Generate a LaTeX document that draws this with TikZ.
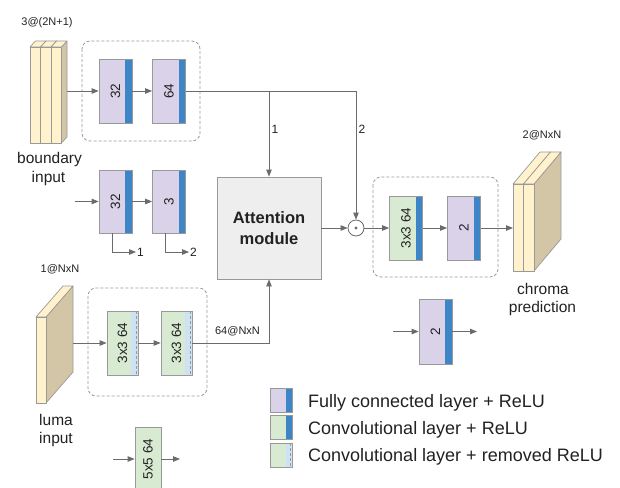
\documentclass[tikz,border=0pt]{standalone}
\usepackage{fontspec}
\setmainfont{Liberation Sans}
\usetikzlibrary{arrows.meta}
\definecolor{fcpurple}{HTML}{D9D2E9}
\definecolor{convgreen}{HTML}{D9EAD3}
\definecolor{relublue}{HTML}{3D85C6}
\definecolor{paleblue}{HTML}{CFE2F3}
\definecolor{cream}{HTML}{FFF2CC}
\definecolor{slabtan}{HTML}{D3C6A6}
\definecolor{edgegray}{HTML}{999999}
\definecolor{linegray}{HTML}{6B6B6B}
\definecolor{attgray}{HTML}{EEEEEE}
\definecolor{txt}{HTML}{222222}
\newcommand{\rtext}[1]{\rotatebox{90}{#1}\hspace{5pt}}
\newcommand{\slabdraw}[6]{%
  \draw[slabedge, fill=slabtan] (#1+#4,#2) -- ++(#5,#6) -- (#1+#4+#5,#3+#6) -- (#1+#4,#3) -- cycle;
  \draw[slabedge, fill=cream] (#1,#2) -- ++(#5,#6) -- ++(#4,0) -- (#1+#4,#2) -- cycle;
  \draw[slabedge, fill=cream] (#1,#2) rectangle (#1+#4,#3);}
\begin{document}
\begin{tikzpicture}[x=1pt,y=-1pt,
  slabedge/.style={draw=edgegray, line width=0.7pt, line join=round},
  layer/.style={draw=edgegray, line width=0.8pt, inner sep=0pt, minimum width=33pt,
    minimum height=64pt, text=txt, font=\fontsize{13.5}{14}\selectfont},
  relu/.style={path picture={\fill[relublue] ([xshift=-#1]path picture bounding box.north east)
    rectangle (path picture bounding box.south east);}},
  relu/.default=7pt,
  norelu/.style={path picture={\fill[paleblue] ([xshift=-#1]path picture bounding box.north east)
    rectangle (path picture bounding box.south east);
    \draw[edgegray, line width=0.8pt, dash pattern=on 3pt off 2pt] ([xshift=-2pt]path picture bounding box.north east)
    -- ([xshift=-2pt]path picture bounding box.south east);}},
  norelu/.default=7pt,
  group/.style={draw=edgegray, line width=0.8pt, dash pattern=on 3pt off 2pt, rounded corners=8pt},
  att/.style={draw=edgegray, fill=attgray, line width=0.8pt, minimum width=104pt, minimum height=102pt,
    inner sep=0pt, align=center, text=txt, font=\fontsize{16.5}{21}\selectfont\bfseries},
  dotc/.style={circle, draw=linegray, fill=white, line width=0.8pt, minimum size=16pt, inner sep=0pt},
  conn/.style={draw=linegray, line width=0.8pt},
  arr/.style={conn, -{Triangle[length=7pt,width=5.5pt]}},
  small/.style={text=txt, font=\fontsize{11}{12}\selectfont, inner sep=1pt},
  num/.style={text=txt, font=\fontsize{12}{13}\selectfont, inner sep=1pt},
  big/.style={text=txt, font=\fontsize{15.5}{18}\selectfont, inner sep=0pt, anchor=base},
  legtxt/.style={text=txt, font=\fontsize{18}{20}\selectfont, inner sep=0pt, anchor=base west}]
\clip (0,0) rectangle (620,487);
\fill[white] (0,0) rectangle (620,487);

% stacks
\slabdraw{30}{47}{143}{10.5}{5.5}{-6}
\slabdraw{40.5}{47}{143}{10.5}{5.5}{-6}
\slabdraw{51}{47}{143}{10.5}{5.5}{-6}
\slabdraw{513}{184}{271}{10.5}{27}{-32}
\slabdraw{523.5}{184}{271}{10.5}{27}{-32}
\slabdraw{36}{317}{403}{10}{27}{-31}
\coordinate (bsrc) at (67,91);
\coordinate (lsrc) at (73,343);
\coordinate (cdst) at (513,228);

% dashed groups
\draw[group] (82,41) rectangle (200,141);
\draw[group] (88,288) rectangle (207,396);
\draw[group] (373,177) rectangle (498,277);

% layers
\node[layer, fill=fcpurple, relu] (b32) at (115.5,91) {\rtext{32}};
\node[layer, fill=fcpurple, relu] (b64) at (169,91) {\rtext{64}};
\node[layer, fill=fcpurple, relu, minimum height=63pt] (r32) at (115.5,201.5) {\rtext{32}};
\node[layer, fill=fcpurple, relu, minimum height=63pt] (r3) at (169,201.5) {\rtext{3}};
\node[att] (att) at (269,228) {Attention\\module};
\node[dotc] (dot) at (356,228) {};
\fill[linegray] (dot) circle (1.7);
\node[layer, fill=convgreen, relu] (og) at (406,228) {\rtext{3x3 64}};
\node[layer, fill=fcpurple, relu] (op) at (464,228) {\rtext{2}};
\node[layer, fill=convgreen, norelu, minimum width=31pt] (lg1) at (122.5,343) {\rtext{3x3 64}};
\node[layer, fill=convgreen, norelu, minimum width=31pt] (lg2) at (176.5,343) {\rtext{3x3 64}};
\node[layer, fill=fcpurple, relu, minimum height=65pt] (b2) at (435.5,331.5) {\rtext{2}};
\node[layer, fill=convgreen, minimum width=26pt] (f5) at (148,459) {\rotatebox{90}{5x5 64}};

% labels
\node[small] (t3) at (47,23) {3@(2N+1)};
\node[small] (t1n) at (60,269) {1@NxN};
\node[small] (t2n) at (542,135.5) {2@NxN};
\node[small] (t64) at (237.5,331.5) {64@NxN};
\node[big] (tb1) at (49.5,163) {boundary};
\node[big] (tb2) at (48.5,182) {input};
\node[big] (tc1) at (543,294) {chroma};
\node[big] (tc2) at (542.5,312) {prediction};
\node[big] (tl1) at (56,425) {luma};
\node[big] (tl2) at (56,443) {input};
\node[num] (n1) at (275,129.5) {1};
\node[num] (n2) at (362,129.5) {2};
\node[num, anchor=west] (o1) at (136,252) {1};
\node[num, anchor=west] (o2) at (189,252) {2};

% connectors
\draw[arr] (bsrc) -- (b32);
\draw[arr] (b32) -- (b64);
\draw[arr] (b64.east) -| (dot.north);
\draw[arr] (b64.east -| att.north) -- (att.north);
\coordinate (r2in) at (75,201.5);
\draw[arr] (r2in) -- (r32);
\draw[arr] (r32) -- (r3);
\draw[arr] ([xshift=-3.5pt]r32.south) |- (o1.west);
\draw[arr] ([xshift=-3.5pt]r3.south) |- (o2.west);
\draw[arr] (att.east) -- (dot.west);
\draw[arr] (dot.east) -- (og.west);
\draw[arr] (og) -- (op);
\draw[arr] (op.east) -- (cdst);
\draw[arr] (lsrc) -- (lg1.west);
\draw[arr] (lg1) -- (lg2);
\draw[arr] (lg2.east) -| (att.south);
\coordinate (b2in) at (393,331.5);
\coordinate (b2out) at (477,331.5);
\draw[arr] (b2in) -- (b2.west);
\draw[arr] (b2.east) -- (b2out);
\coordinate (f5in) at (113,459);
\coordinate (f5out) at (180,459);
\draw[arr] (f5in) -- (f5.west);
\draw[arr] (f5.east) -- (f5out);

% legend
\node[layer, fill=fcpurple, relu=6pt, minimum width=22pt, minimum height=24pt] (lega) at (281,400) {};
\node[layer, fill=convgreen, relu=6pt, minimum width=22pt, minimum height=24pt] (legb) at (281,427) {};
\node[layer, fill=convgreen, norelu=6pt, minimum width=22pt, minimum height=24pt] (legc) at (281,455) {};
\node[legtxt] (la) at (308,407) {Fully connected layer + ReLU};
\node[legtxt] (lb) at (308,434) {Convolutional layer + ReLU};
\node[legtxt] (lc) at (308,461) {Convolutional layer + removed ReLU};
\end{tikzpicture}
\end{document}
